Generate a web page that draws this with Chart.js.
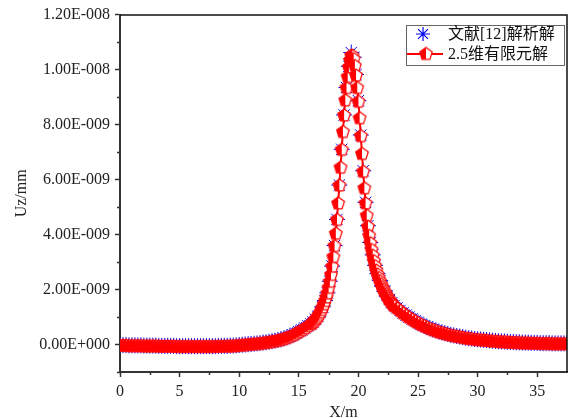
<!DOCTYPE html>
<html><head><meta charset="utf-8">
<script src="https://cdn.jsdelivr.net/npm/chart.js@4.4.0/dist/chart.umd.min.js"></script>
<style>html,body{margin:0;padding:0;background:#fff;}canvas{display:block;}</style>
</head><body>
<canvas id="c" width="576" height="418"></canvas>
<script>
// Values in units of 1E-009 mm
const seriesNames = ['文献[12]解析解', '2.5维有限元解'];

// Left tail, shared reading for both series (x in m)
const xLeftTail = [0,0.25,0.5,0.75,1,1.25,1.5,1.75,2,2.25,2.5,2.75,3,3.25,3.5,3.75,4,4.25,4.5,4.75,5,5.25,5.5,5.75,6,6.25,6.5,6.75,7,7.25,7.5,7.75,8,8.25,8.5,8.75,9,9.25,9.5,9.75,10,10.25,10.5,10.75,11,11.25,11.5,11.75,12,12.25,12.5,12.75,13,13.25,13.5,13.75,14,14.25,14.5,14.75,15,15.25,15.5,15.75,16];
const yLeftTail = [-0.02,-0.02,-0.02,-0.03,-0.03,-0.03,-0.03,-0.03,-0.04,-0.04,-0.04,-0.04,-0.04,-0.05,-0.05,-0.05,-0.05,-0.05,-0.05,-0.06,-0.06,-0.06,-0.06,-0.06,-0.06,-0.06,-0.06,-0.06,-0.06,-0.06,-0.06,-0.06,-0.06,-0.05,-0.05,-0.05,-0.05,-0.04,-0.04,-0.03,-0.02,-0.01,0,0.01,0.02,0.03,0.04,0.05,0.07,0.08,0.10,0.12,0.14,0.16,0.19,0.22,0.26,0.30,0.35,0.41,0.47,0.53,0.60,0.68,0.75];

// Peak region, 2.5D FE solution
const xPeakFE = [16.1,16.2,16.3,16.4,16.5,16.6,16.7,16.8,16.9,17,17.1,17.2,17.3,17.4,17.5,17.6,17.7,17.8,17.9,18,18.1,18.2,18.3,18.4,18.5,18.6,18.7,18.8,18.9,19,19.1,19.2,19.3,19.4,19.5,19.6,19.7,19.8,19.9,20,20.1,20.2,20.3,20.4,20.5,20.6,20.7,20.8,20.9,21,21.1,21.2,21.3,21.4,21.5,21.6,21.7,21.8,21.9,22,22.1,22.2,22.3,22.4,22.5,22.6,22.7,22.8,22.9,23];
const yPeakFE = [0.78,0.82,0.87,0.92,0.97,1.03,1.10,1.18,1.27,1.37,1.48,1.60,1.73,1.88,2.08,2.30,2.55,2.85,3.20,3.60,4.05,4.55,5.15,5.80,6.45,7.10,7.75,8.35,8.90,9.35,9.75,10.10,10.35,10.52,10.52,10.40,10.15,9.80,9.35,8.85,8.25,7.60,6.95,6.30,5.70,5.15,4.70,4.30,3.97,3.70,3.46,3.25,3.05,2.87,2.71,2.57,2.44,2.32,2.21,2.11,2.02,1.93,1.85,1.77,1.70,1.63,1.57,1.51,1.46,1.41];

// Peak region, analytical solution of ref. [12]
const xPeakRef = [16.2,16.4,16.6,16.8,17,17.2,17.4,17.6,17.8,18,18.2,18.4,18.6,18.8,19,19.2,19.4,19.6,19.8,20,20.2,20.4,20.6,20.8,21,21.2,21.4,21.6,21.8,22,22.2,22.4,22.6,22.8,23];
const yPeakRef = [0.82,0.92,1.03,1.18,1.37,1.60,1.88,2.30,2.85,3.60,4.55,5.80,7.10,8.35,9.35,10.12,10.62,10.45,9.82,8.87,7.62,6.32,5.17,4.32,3.71,3.26,2.88,2.58,2.33,2.12,1.94,1.78,1.64,1.52,1.42];

// Right tail, shared reading for both series
const xRightTail = [23.25,23.5,23.75,24,24.25,24.5,24.75,25,25.25,25.5,25.75,26,26.25,26.5,26.75,27,27.25,27.5,27.75,28,28.25,28.5,28.75,29,29.25,29.5,29.75,30,30.25,30.5,30.75,31,31.25,31.5,31.75,32,32.25,32.5,32.75,33,33.25,33.5,33.75,34,34.25,34.5,34.75,35,35.25,35.5,35.75,36,36.25,36.5,36.75,37,37.25,37.5];
const yRightTail = [1.33,1.24,1.15,1.07,1.00,0.93,0.86,0.80,0.74,0.69,0.64,0.59,0.55,0.51,0.47,0.44,0.41,0.38,0.35,0.33,0.31,0.29,0.27,0.25,0.23,0.22,0.20,0.19,0.18,0.17,0.16,0.15,0.14,0.13,0.12,0.11,0.11,0.10,0.09,0.09,0.08,0.08,0.07,0.07,0.07,0.06,0.06,0.06,0.05,0.05,0.05,0.05,0.04,0.04,0.04,0.04,0.04,0.04];

const yTickValues = [0,2,4,6,8,10,12];
const yTickLabels = ['0.00E+000','2.00E-009','4.00E-009','6.00E-009','8.00E-009','1.00E-008','1.20E-008'];
const yMinorValues = [-1,1,3,5,7,9,11];
const xTickValues = [0,5,10,15,20,25,30,35];
const xTickLabels = ['0','5','10','15','20','25','30','35'];
const xMinorValues = [2.5,7.5,12.5,17.5,22.5,27.5,32.5];
const axisTitles = {x:'X/m', y:'Uz/mm'};

function pts(xs, ys){ return xs.map((x,i)=>({x:x, y:ys[i]})); }
const refData = [].concat(pts(xLeftTail,yLeftTail), pts(xPeakRef,yPeakRef), pts(xRightTail,yRightTail));
const feData  = [].concat(pts(xLeftTail,yLeftTail), pts(xPeakFE,yPeakFE), pts(xRightTail,yRightTail));

const FONT = '"Liberation Serif", "Times New Roman", "Noto Sans CJK SC", serif';
const RED = '#ff0000', BLUE = '#0000ff';

function makePentagon(){
  const s = 16, c = document.createElement('canvas'); c.width = s; c.height = s;
  const g = c.getContext('2d'); const r = 6.6, cx = 8, cy = 8.5;
  g.beginPath();
  for (let i=0;i<5;i++){ const a=-Math.PI/2+i*2*Math.PI/5; const px=cx+r*Math.cos(a), py=cy+r*Math.sin(a); if(i) g.lineTo(px,py); else g.moveTo(px,py); }
  g.closePath();
  g.fillStyle = '#fff'; g.fill();
  g.save(); g.clip(); g.fillStyle = RED; g.fillRect(0,0,cx,s); g.restore();
  g.strokeStyle = RED; g.lineWidth = 1.2; g.stroke();
  return c;
}
const pent = makePentagon();

function drawStar(ctx, x, y, r){
  const d = r*Math.cos(Math.PI/4);
  ctx.beginPath();
  ctx.moveTo(x-r,y); ctx.lineTo(x+r,y);
  ctx.moveTo(x,y-r); ctx.lineTo(x,y+r);
  ctx.moveTo(x-d,y-d); ctx.lineTo(x+d,y+d);
  ctx.moveTo(x-d,y+d); ctx.lineTo(x+d,y-d);
  ctx.stroke();
}

const decor = {
  id:'decor',
  afterDraw(chart){
    const {ctx, chartArea:a, scales:{x, y}} = chart;
    ctx.save();
    ctx.strokeStyle = '#111'; ctx.lineWidth = 1.5;
    ctx.beginPath();
    ctx.moveTo(a.left, a.top+0.5); ctx.lineTo(a.right, a.top+0.5); ctx.lineTo(a.right, a.bottom);
    ctx.stroke();
    ctx.strokeStyle = '#333'; ctx.lineWidth = 1.5;
    ctx.beginPath();
    yMinorValues.forEach(v=>{ const py = Math.round(y.getPixelForValue(v))+0.5; ctx.moveTo(a.left-3, py); ctx.lineTo(a.left, py); });
    xMinorValues.forEach(v=>{ const px = Math.round(x.getPixelForValue(v))+0.5; ctx.moveTo(px, a.bottom); ctx.lineTo(px, a.bottom+3); });
    ctx.stroke();
    const bx = 406.5, by = 25.5, bw = 158, bh = 40;
    ctx.strokeStyle = '#666'; ctx.lineWidth = 1;
    ctx.strokeRect(bx, by, bw, bh);
    ctx.strokeStyle = BLUE; ctx.lineWidth = 1.2;
    drawStar(ctx, 423, 34, 7);
    ctx.strokeStyle = RED; ctx.lineWidth = 2;
    ctx.beginPath(); ctx.moveTo(407, 54); ctx.lineTo(443, 54); ctx.stroke();
    ctx.drawImage(pent, 426-8, 54-8.5);
    ctx.font = '16px ' + FONT; ctx.fillStyle = '#111'; ctx.textBaseline = 'middle'; ctx.textAlign = 'left';
    ctx.fillText(seriesNames[0], 448, 35);
    ctx.fillText(seriesNames[1], 448, 55);
    ctx.restore();
  }
};

const tickFont = {family: FONT, size: 16};
new Chart(document.getElementById('c'), {
  type: 'scatter',
  data: { datasets: [
    { label: seriesNames[0], data: refData, showLine: false, pointStyle: 'star', pointRadius: 8, pointHoverRadius: 8,
      borderColor: BLUE, backgroundColor: BLUE, pointBorderWidth: 1, order: 2, clip: 0 },
    { label: seriesNames[1], data: feData, showLine: true, tension: 0, borderColor: RED, backgroundColor: RED, borderWidth: 2,
      pointStyle: pent, pointRadius: 7, pointHoverRadius: 7, order: 1, clip: 0 }
  ]},
  options: {
    responsive: false, animation: false, devicePixelRatio: 1,
    layout: { padding: {top: 12, right: 2, left: 0, bottom: 0} },
    plugins: { legend: {display: false}, tooltip: {enabled: false} },
    scales: {
      x: { type: 'linear', min: 0, max: 37.5,
        afterBuildTicks: s => { s.ticks = xTickValues.map(v => ({value: v})); },
        afterFit: s => { s.height = 46; },
        ticks: { callback: (v, i) => xTickLabels[i], font: tickFont, color: '#222', padding: 5, maxRotation: 0, autoSkip: false },
        grid: { display: true, drawOnChartArea: false, drawTicks: true, tickLength: 5, tickColor: '#333', tickWidth: 1.5 },
        border: { display: true, color: '#333', width: 2 },
        title: { display: true, text: axisTitles.x, font: tickFont, color: '#222', padding: {top: 0, bottom: -4} }
      },
      y: { type: 'linear', min: -1, max: 12,
        afterBuildTicks: s => { s.ticks = yTickValues.map(v => ({value: v})); },
        afterFit: s => { s.width = 120; },
        ticks: { callback: (v, i) => yTickLabels[i], font: tickFont, color: '#222', padding: 5, autoSkip: false },
        grid: { display: true, drawOnChartArea: false, drawTicks: true, tickLength: 5, tickColor: '#333', tickWidth: 1.5 },
        border: { display: true, color: '#333', width: 2 },
        title: { display: true, text: axisTitles.y, font: tickFont, color: '#222', padding: {top: 12, bottom: 0} }
      }
    }
  },
  plugins: [decor]
});
</script>
</body></html>
